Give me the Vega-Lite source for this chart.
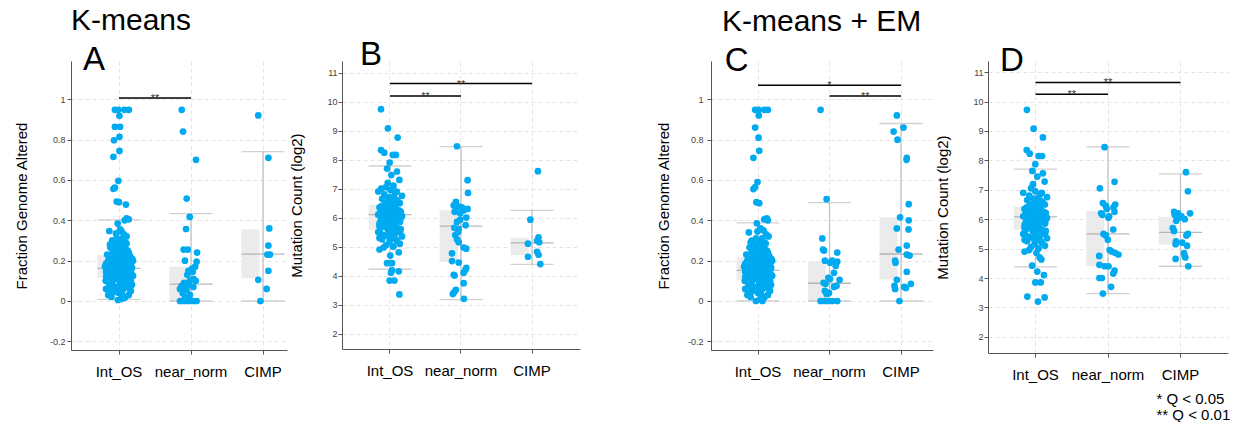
{
"$schema": "https://vega.github.io/schema/vega-lite/v6.json",
"padding": {"left": 14, "top": 6, "right": 0, "bottom": 0},
"background": "white",
"bounds": "flush",
"spacing": 55,
"config": {
  "font": "Liberation Sans",
  "view": {"stroke": null},
  "title": {"font": "Liberation Sans", "fontWeight": "normal", "color": "black", "subtitleFont": "Liberation Sans", "subtitleColor": "black"},
  "axis": {"labelFont": "Liberation Sans", "titleFont": "Liberation Sans", "titleFontWeight": "normal", "domainColor": "#555555", "tickColor": "#555555", "gridColor": "#e4e4e4", "gridDash": [4, 3]}
},
"datasets": {
"box": [
{"p":"A","g":"Int_OS","q1":0.116,"med":0.162,"q3":0.228,"lo":0.008,"hi":0.402},
{"p":"A","g":"near_norm","q1":0.0,"med":0.084,"q3":0.17,"lo":0.0,"hi":0.433},
{"p":"A","g":"CIMP","q1":0.113,"med":0.232,"q3":0.356,"lo":0.0,"hi":0.741},
{"p":"B","g":"Int_OS","q1":5.57,"med":6.10,"q3":6.44,"lo":4.22,"hi":7.78},
{"p":"B","g":"near_norm","q1":4.47,"med":5.71,"q3":6.25,"lo":3.17,"hi":8.45},
{"p":"B","g":"CIMP","q1":4.71,"med":5.13,"q3":5.31,"lo":4.39,"hi":6.25},
{"p":"C","g":"Int_OS","q1":0.104,"med":0.152,"q3":0.218,"lo":0.0,"hi":0.387},
{"p":"C","g":"near_norm","q1":0.0,"med":0.088,"q3":0.195,"lo":0.0,"hi":0.488},
{"p":"C","g":"CIMP","q1":0.106,"med":0.233,"q3":0.415,"lo":0.0,"hi":0.88},
{"p":"D","g":"Int_OS","q1":5.64,"med":6.08,"q3":6.43,"lo":4.38,"hi":7.70},
{"p":"D","g":"near_norm","q1":4.41,"med":5.50,"q3":6.28,"lo":3.47,"hi":8.46},
{"p":"D","g":"CIMP","q1":5.14,"med":5.55,"q3":6.08,"lo":4.40,"hi":7.54}
],
"sig": [
{"p":"A","a":"Int_OS","b":"near_norm","m":"Int_OS","y":1.006,"t":"**","s":"short"},
{"p":"B","a":"Int_OS","b":"near_norm","m":"Int_OS","y":10.19,"t":"**","s":"short"},
{"p":"B","a":"Int_OS","b":"CIMP","m":"near_norm","y":10.62,"t":"**","s":"long"},
{"p":"C","a":"Int_OS","b":"CIMP","m":"near_norm","y":1.07,"t":"*","s":"long"},
{"p":"C","a":"near_norm","b":"CIMP","m":"near_norm","y":1.016,"t":"**","s":"short"},
{"p":"D","a":"Int_OS","b":"near_norm","m":"Int_OS","y":10.25,"t":"**","s":"short"},
{"p":"D","a":"Int_OS","b":"CIMP","m":"near_norm","y":10.65,"t":"**","s":"long"}
],
"pts": [
{"p":"A","g":"Int_OS","v":0.948,"j":-0.19},{"p":"A","g":"Int_OS","v":0.948,"j":-0.03},{"p":"A","g":"Int_OS","v":0.948,"j":0.25},{"p":"A","g":"Int_OS","v":0.948,"j":0.46},
{"p":"A","g":"Int_OS","v":0.918,"j":0.02},{"p":"A","g":"Int_OS","v":0.864,"j":-0.19},{"p":"A","g":"Int_OS","v":0.864,"j":0.05},{"p":"A","g":"Int_OS","v":0.814,"j":0.02},
{"p":"A","g":"Int_OS","v":0.797,"j":-0.23},{"p":"A","g":"Int_OS","v":0.744,"j":0.02},{"p":"A","g":"Int_OS","v":0.715,"j":-0.26},{"p":"A","g":"Int_OS","v":0.596,"j":-0.03},
{"p":"A","g":"Int_OS","v":0.562,"j":-0.19},{"p":"A","g":"Int_OS","v":0.556,"j":-0.26},{"p":"A","g":"Int_OS","v":0.493,"j":-0.11},{"p":"A","g":"Int_OS","v":0.49,"j":0.0},
{"p":"A","g":"Int_OS","v":0.478,"j":0.32},{"p":"A","g":"Int_OS","v":0.41,"j":0.35},{"p":"A","g":"Int_OS","v":0.405,"j":0.45},{"p":"A","g":"Int_OS","v":0.4,"j":0.26},
{"p":"A","g":"Int_OS","v":0.384,"j":-0.06},{"p":"A","g":"Int_OS","v":0.347,"j":-0.45},{"p":"A","g":"Int_OS","v":0.355,"j":0.05},{"p":"A","g":"Int_OS","v":0.345,"j":0.12},
{"p":"A","g":"Int_OS","v":0.33,"j":0.23},{"p":"A","g":"Int_OS","v":0.32,"j":0.35},{"p":"A","g":"Int_OS","v":0.31,"j":0.17},{"p":"A","g":"Int_OS","v":0.335,"j":-0.14},
{"p":"A","g":"Int_OS","v":0.3,"j":-0.32},{"p":"A","g":"Int_OS","v":0.28,"j":-0.42},
{"p":"A","g":"Int_OS","v":0.005,"j":-0.05},{"p":"A","g":"Int_OS","v":0.01,"j":0.1},{"p":"A","g":"Int_OS","v":0.02,"j":-0.35},{"p":"A","g":"Int_OS","v":0.02,"j":0.3},
{"p":"A","g":"Int_OS","v":0.03,"j":-0.5},{"p":"A","g":"Int_OS","v":0.03,"j":0.45},{"p":"A","g":"Int_OS","v":0.04,"j":0.0},{"p":"A","g":"Int_OS","v":0.05,"j":-0.25},
{"p":"A","g":"Int_OS","v":0.05,"j":0.55},{"p":"A","g":"Int_OS","v":0.06,"j":-0.6},{"p":"A","g":"Int_OS","v":0.06,"j":0.2},{"p":"A","g":"Int_OS","v":0.07,"j":-0.1},
{"p":"A","g":"Int_OS","v":0.07,"j":0.4},{"p":"A","g":"Int_OS","v":0.08,"j":-0.45},{"p":"A","g":"Int_OS","v":0.08,"j":0.6},{"p":"A","g":"Int_OS","v":0.09,"j":0.05},
{"p":"A","g":"Int_OS","v":0.09,"j":-0.3},{"p":"A","g":"Int_OS","v":0.1,"j":0.35},{"p":"A","g":"Int_OS","v":0.1,"j":-0.62},{"p":"A","g":"Int_OS","v":0.1,"j":0.15},
{"p":"A","g":"Int_OS","v":0.11,"j":-0.15},{"p":"A","g":"Int_OS","v":0.11,"j":0.5},{"p":"A","g":"Int_OS","v":0.115,"j":-0.4},{"p":"A","g":"Int_OS","v":0.12,"j":0.25},
{"p":"A","g":"Int_OS","v":0.12,"j":-0.05},{"p":"A","g":"Int_OS","v":0.125,"j":0.65},{"p":"A","g":"Int_OS","v":0.13,"j":-0.55},{"p":"A","g":"Int_OS","v":0.13,"j":0.1},
{"p":"A","g":"Int_OS","v":0.135,"j":0.4},{"p":"A","g":"Int_OS","v":0.14,"j":-0.25},{"p":"A","g":"Int_OS","v":0.14,"j":0.2},{"p":"A","g":"Int_OS","v":0.145,"j":-0.6},
{"p":"A","g":"Int_OS","v":0.15,"j":0.55},{"p":"A","g":"Int_OS","v":0.15,"j":0.0},{"p":"A","g":"Int_OS","v":0.155,"j":-0.35},{"p":"A","g":"Int_OS","v":0.16,"j":0.3},
{"p":"A","g":"Int_OS","v":0.16,"j":-0.15},{"p":"A","g":"Int_OS","v":0.165,"j":0.6},{"p":"A","g":"Int_OS","v":0.17,"j":-0.5},{"p":"A","g":"Int_OS","v":0.17,"j":0.1},
{"p":"A","g":"Int_OS","v":0.175,"j":0.45},{"p":"A","g":"Int_OS","v":0.18,"j":-0.2},{"p":"A","g":"Int_OS","v":0.18,"j":0.25},{"p":"A","g":"Int_OS","v":0.185,"j":-0.6},
{"p":"A","g":"Int_OS","v":0.19,"j":0.05},{"p":"A","g":"Int_OS","v":0.19,"j":0.5},{"p":"A","g":"Int_OS","v":0.195,"j":-0.35},{"p":"A","g":"Int_OS","v":0.2,"j":0.2},
{"p":"A","g":"Int_OS","v":0.2,"j":-0.1},{"p":"A","g":"Int_OS","v":0.21,"j":0.6},{"p":"A","g":"Int_OS","v":0.21,"j":-0.45},{"p":"A","g":"Int_OS","v":0.215,"j":0.35},
{"p":"A","g":"Int_OS","v":0.22,"j":-0.2},{"p":"A","g":"Int_OS","v":0.22,"j":0.0},{"p":"A","g":"Int_OS","v":0.225,"j":0.5},{"p":"A","g":"Int_OS","v":0.23,"j":-0.55},
{"p":"A","g":"Int_OS","v":0.235,"j":0.15},{"p":"A","g":"Int_OS","v":0.24,"j":-0.3},{"p":"A","g":"Int_OS","v":0.24,"j":0.45},{"p":"A","g":"Int_OS","v":0.25,"j":0.05},
{"p":"A","g":"Int_OS","v":0.25,"j":-0.1},{"p":"A","g":"Int_OS","v":0.26,"j":0.3},{"p":"A","g":"Int_OS","v":0.265,"j":-0.4},{"p":"A","g":"Int_OS","v":0.27,"j":0.2},
{"p":"A","g":"Int_OS","v":0.28,"j":-0.15},{"p":"A","g":"Int_OS","v":0.285,"j":0.35},{"p":"A","g":"Int_OS","v":0.29,"j":0.1},{"p":"A","g":"Int_OS","v":0.3,"j":-0.3},
{"p":"A","g":"Int_OS","v":0.23,"j":0.3},{"p":"A","g":"Int_OS","v":0.13,"j":0.6},{"p":"A","g":"Int_OS","v":0.09,"j":0.45},{"p":"A","g":"Int_OS","v":0.06,"j":-0.2},
{"p":"A","g":"Int_OS","v":0.17,"j":-0.65},{"p":"A","g":"Int_OS","v":0.12,"j":0.45},{"p":"A","g":"Int_OS","v":0.2,"j":0.65},{"p":"A","g":"Int_OS","v":0.015,"j":0.25},
{"p":"A","g":"Int_OS","v":0.045,"j":-0.15},
{"p":"A","g":"Int_OS","v":0.105,"j":0.05},{"p":"A","g":"Int_OS","v":0.115,"j":0.3},{"p":"A","g":"Int_OS","v":0.125,"j":-0.3},{"p":"A","g":"Int_OS","v":0.135,"j":-0.1},
{"p":"A","g":"Int_OS","v":0.145,"j":0.35},{"p":"A","g":"Int_OS","v":0.155,"j":0.15},{"p":"A","g":"Int_OS","v":0.165,"j":-0.25},{"p":"A","g":"Int_OS","v":0.175,"j":0.0},
{"p":"A","g":"Int_OS","v":0.185,"j":0.3},{"p":"A","g":"Int_OS","v":0.195,"j":0.1},{"p":"A","g":"Int_OS","v":0.205,"j":-0.3},{"p":"A","g":"Int_OS","v":0.215,"j":-0.05},
{"p":"A","g":"Int_OS","v":0.225,"j":0.25},{"p":"A","g":"Int_OS","v":0.14,"j":0.5},{"p":"A","g":"Int_OS","v":0.16,"j":-0.45},{"p":"A","g":"Int_OS","v":0.18,"j":0.55},
{"p":"A","g":"Int_OS","v":0.2,"j":-0.5},{"p":"A","g":"Int_OS","v":0.12,"j":-0.6},{"p":"A","g":"Int_OS","v":0.1,"j":0.55},{"p":"A","g":"Int_OS","v":0.08,"j":0.15},
{"p":"A","g":"Int_OS","v":0.07,"j":-0.35},{"p":"A","g":"Int_OS","v":0.06,"j":0.5},{"p":"A","g":"Int_OS","v":0.05,"j":0.1},{"p":"A","g":"Int_OS","v":0.04,"j":-0.4},
{"p":"A","g":"Int_OS","v":0.03,"j":0.15},{"p":"A","g":"Int_OS","v":0.11,"j":0.2},{"p":"A","g":"Int_OS","v":0.13,"j":-0.4},{"p":"A","g":"Int_OS","v":0.15,"j":-0.2},
{"p":"A","g":"Int_OS","v":0.17,"j":0.35},{"p":"A","g":"Int_OS","v":0.19,"j":-0.1},{"p":"A","g":"Int_OS","v":0.21,"j":0.15},{"p":"A","g":"Int_OS","v":0.23,"j":0.0},
{"p":"A","g":"Int_OS","v":0.25,"j":0.4},{"p":"A","g":"Int_OS","v":0.27,"j":-0.25},{"p":"A","g":"Int_OS","v":0.29,"j":0.3},{"p":"A","g":"Int_OS","v":0.31,"j":-0.1},
{"p":"A","g":"Int_OS","v":0.26,"j":0.0},{"p":"A","g":"Int_OS","v":0.24,"j":0.2},{"p":"A","g":"Int_OS","v":0.155,"j":0.45},{"p":"A","g":"Int_OS","v":0.145,"j":0.05},
{"p":"A","g":"near_norm","v":0.948,"j":-0.43},{"p":"A","g":"near_norm","v":0.84,"j":-0.37},{"p":"A","g":"near_norm","v":0.7,"j":0.23},{"p":"A","g":"near_norm","v":0.508,"j":-0.2},
{"p":"A","g":"near_norm","v":0.417,"j":-0.06},{"p":"A","g":"near_norm","v":0.357,"j":-0.23},{"p":"A","g":"near_norm","v":0.255,"j":-0.34},{"p":"A","g":"near_norm","v":0.255,"j":-0.15},
{"p":"A","g":"near_norm","v":0.24,"j":0.28},{"p":"A","g":"near_norm","v":0.2,"j":-0.28},{"p":"A","g":"near_norm","v":0.195,"j":0.26},{"p":"A","g":"near_norm","v":0.17,"j":0.19},
{"p":"A","g":"near_norm","v":0.16,"j":0.05},{"p":"A","g":"near_norm","v":0.15,"j":-0.12},{"p":"A","g":"near_norm","v":0.145,"j":0.08},{"p":"A","g":"near_norm","v":0.13,"j":-0.17},
{"p":"A","g":"near_norm","v":0.11,"j":0.11},{"p":"A","g":"near_norm","v":0.1,"j":-0.05},{"p":"A","g":"near_norm","v":0.1,"j":0.22},{"p":"A","g":"near_norm","v":0.09,"j":-0.32},
{"p":"A","g":"near_norm","v":0.08,"j":-0.12},{"p":"A","g":"near_norm","v":0.075,"j":-0.43},{"p":"A","g":"near_norm","v":0.07,"j":0.11},{"p":"A","g":"near_norm","v":0.065,"j":-0.25},
{"p":"A","g":"near_norm","v":0.06,"j":-0.51},{"p":"A","g":"near_norm","v":0.055,"j":-0.2},{"p":"A","g":"near_norm","v":0.04,"j":-0.39},{"p":"A","g":"near_norm","v":0.03,"j":-0.05},
{"p":"A","g":"near_norm","v":0.02,"j":-0.28},{"p":"A","g":"near_norm","v":0.0,"j":-0.51},{"p":"A","g":"near_norm","v":0.0,"j":-0.35},{"p":"A","g":"near_norm","v":0.0,"j":-0.2},
{"p":"A","g":"near_norm","v":0.0,"j":-0.05},{"p":"A","g":"near_norm","v":0.0,"j":0.11},{"p":"A","g":"near_norm","v":0.0,"j":0.26},
{"p":"A","g":"CIMP","v":0.92,"j":-0.22},{"p":"A","g":"CIMP","v":0.71,"j":0.25},{"p":"A","g":"CIMP","v":0.36,"j":0.29},{"p":"A","g":"CIMP","v":0.275,"j":0.25},
{"p":"A","g":"CIMP","v":0.23,"j":0.2},{"p":"A","g":"CIMP","v":0.23,"j":0.32},{"p":"A","g":"CIMP","v":0.15,"j":0.25},{"p":"A","g":"CIMP","v":0.105,"j":-0.22},
{"p":"A","g":"CIMP","v":0.06,"j":0.17},{"p":"A","g":"CIMP","v":0.0,"j":-0.12},

{"p":"C","g":"Int_OS","v":0.948,"j":-0.14},{"p":"C","g":"Int_OS","v":0.948,"j":0.02},{"p":"C","g":"Int_OS","v":0.948,"j":0.28},{"p":"C","g":"Int_OS","v":0.948,"j":0.45},
{"p":"C","g":"Int_OS","v":0.92,"j":0.03},{"p":"C","g":"Int_OS","v":0.86,"j":-0.14},{"p":"C","g":"Int_OS","v":0.81,"j":0.02},{"p":"C","g":"Int_OS","v":0.745,"j":0.05},
{"p":"C","g":"Int_OS","v":0.71,"j":-0.22},{"p":"C","g":"Int_OS","v":0.59,"j":-0.03},{"p":"C","g":"Int_OS","v":0.565,"j":-0.14},{"p":"C","g":"Int_OS","v":0.555,"j":-0.22},
{"p":"C","g":"Int_OS","v":0.49,"j":-0.08},{"p":"C","g":"Int_OS","v":0.485,"j":0.05},{"p":"C","g":"Int_OS","v":0.41,"j":0.4},{"p":"C","g":"Int_OS","v":0.405,"j":0.28},
{"p":"C","g":"Int_OS","v":0.4,"j":0.45},{"p":"C","g":"Int_OS","v":0.385,"j":-0.06},{"p":"C","g":"Int_OS","v":0.34,"j":-0.43},{"p":"C","g":"Int_OS","v":0.29,"j":-0.35},
{"p":"C","g":"Int_OS","v":0.36,"j":0.11},{"p":"C","g":"Int_OS","v":0.35,"j":0.25},{"p":"C","g":"Int_OS","v":0.33,"j":0.37},{"p":"C","g":"Int_OS","v":0.32,"j":0.48},
{"p":"C","g":"Int_OS","v":0.345,"j":-0.03},{"p":"C","g":"Int_OS","v":0.31,"j":0.19},
{"p":"C","g":"Int_OS","v":0.0,"j":-0.1},{"p":"C","g":"Int_OS","v":0.0,"j":0.2},{"p":"C","g":"Int_OS","v":0.01,"j":0.1},{"p":"C","g":"Int_OS","v":0.02,"j":-0.35},{"p":"C","g":"Int_OS","v":0.02,"j":0.3},
{"p":"C","g":"Int_OS","v":0.03,"j":-0.5},{"p":"C","g":"Int_OS","v":0.03,"j":0.45},{"p":"C","g":"Int_OS","v":0.04,"j":0.0},{"p":"C","g":"Int_OS","v":0.05,"j":-0.25},
{"p":"C","g":"Int_OS","v":0.05,"j":0.55},{"p":"C","g":"Int_OS","v":0.06,"j":-0.6},{"p":"C","g":"Int_OS","v":0.06,"j":0.2},{"p":"C","g":"Int_OS","v":0.07,"j":-0.1},
{"p":"C","g":"Int_OS","v":0.07,"j":0.4},{"p":"C","g":"Int_OS","v":0.08,"j":-0.45},{"p":"C","g":"Int_OS","v":0.08,"j":0.6},{"p":"C","g":"Int_OS","v":0.09,"j":0.05},
{"p":"C","g":"Int_OS","v":0.09,"j":-0.3},{"p":"C","g":"Int_OS","v":0.1,"j":0.35},{"p":"C","g":"Int_OS","v":0.1,"j":-0.62},{"p":"C","g":"Int_OS","v":0.1,"j":0.15},
{"p":"C","g":"Int_OS","v":0.11,"j":-0.15},{"p":"C","g":"Int_OS","v":0.11,"j":0.5},{"p":"C","g":"Int_OS","v":0.115,"j":-0.4},{"p":"C","g":"Int_OS","v":0.12,"j":0.25},
{"p":"C","g":"Int_OS","v":0.12,"j":-0.05},{"p":"C","g":"Int_OS","v":0.125,"j":0.65},{"p":"C","g":"Int_OS","v":0.13,"j":-0.55},{"p":"C","g":"Int_OS","v":0.13,"j":0.1},
{"p":"C","g":"Int_OS","v":0.135,"j":0.4},{"p":"C","g":"Int_OS","v":0.14,"j":-0.25},{"p":"C","g":"Int_OS","v":0.14,"j":0.2},{"p":"C","g":"Int_OS","v":0.145,"j":-0.6},
{"p":"C","g":"Int_OS","v":0.15,"j":0.55},{"p":"C","g":"Int_OS","v":0.15,"j":0.0},{"p":"C","g":"Int_OS","v":0.155,"j":-0.35},{"p":"C","g":"Int_OS","v":0.16,"j":0.3},
{"p":"C","g":"Int_OS","v":0.16,"j":-0.15},{"p":"C","g":"Int_OS","v":0.165,"j":0.6},{"p":"C","g":"Int_OS","v":0.17,"j":-0.5},{"p":"C","g":"Int_OS","v":0.17,"j":0.1},
{"p":"C","g":"Int_OS","v":0.175,"j":0.45},{"p":"C","g":"Int_OS","v":0.18,"j":-0.2},{"p":"C","g":"Int_OS","v":0.18,"j":0.25},{"p":"C","g":"Int_OS","v":0.185,"j":-0.6},
{"p":"C","g":"Int_OS","v":0.19,"j":0.05},{"p":"C","g":"Int_OS","v":0.19,"j":0.5},{"p":"C","g":"Int_OS","v":0.195,"j":-0.35},{"p":"C","g":"Int_OS","v":0.2,"j":0.2},
{"p":"C","g":"Int_OS","v":0.2,"j":-0.1},{"p":"C","g":"Int_OS","v":0.21,"j":0.6},{"p":"C","g":"Int_OS","v":0.21,"j":-0.45},{"p":"C","g":"Int_OS","v":0.215,"j":0.35},
{"p":"C","g":"Int_OS","v":0.22,"j":-0.2},{"p":"C","g":"Int_OS","v":0.22,"j":0.0},{"p":"C","g":"Int_OS","v":0.225,"j":0.5},{"p":"C","g":"Int_OS","v":0.23,"j":-0.55},
{"p":"C","g":"Int_OS","v":0.235,"j":0.15},{"p":"C","g":"Int_OS","v":0.24,"j":-0.3},{"p":"C","g":"Int_OS","v":0.24,"j":0.45},{"p":"C","g":"Int_OS","v":0.25,"j":0.05},
{"p":"C","g":"Int_OS","v":0.25,"j":-0.1},{"p":"C","g":"Int_OS","v":0.26,"j":0.3},{"p":"C","g":"Int_OS","v":0.265,"j":-0.4},{"p":"C","g":"Int_OS","v":0.27,"j":0.2},
{"p":"C","g":"Int_OS","v":0.28,"j":-0.15},{"p":"C","g":"Int_OS","v":0.285,"j":0.35},{"p":"C","g":"Int_OS","v":0.29,"j":0.1},{"p":"C","g":"Int_OS","v":0.3,"j":-0.3},
{"p":"C","g":"Int_OS","v":0.23,"j":0.3},{"p":"C","g":"Int_OS","v":0.13,"j":0.6},{"p":"C","g":"Int_OS","v":0.09,"j":0.45},{"p":"C","g":"Int_OS","v":0.06,"j":-0.2},
{"p":"C","g":"Int_OS","v":0.17,"j":-0.65},{"p":"C","g":"Int_OS","v":0.12,"j":0.45},{"p":"C","g":"Int_OS","v":0.2,"j":0.65},{"p":"C","g":"Int_OS","v":0.015,"j":0.25},
{"p":"C","g":"Int_OS","v":0.105,"j":0.05},{"p":"C","g":"Int_OS","v":0.115,"j":0.3},{"p":"C","g":"Int_OS","v":0.125,"j":-0.3},{"p":"C","g":"Int_OS","v":0.135,"j":-0.1},
{"p":"C","g":"Int_OS","v":0.145,"j":0.35},{"p":"C","g":"Int_OS","v":0.155,"j":0.15},{"p":"C","g":"Int_OS","v":0.165,"j":-0.25},{"p":"C","g":"Int_OS","v":0.175,"j":0.0},
{"p":"C","g":"Int_OS","v":0.185,"j":0.3},{"p":"C","g":"Int_OS","v":0.195,"j":0.1},{"p":"C","g":"Int_OS","v":0.205,"j":-0.3},{"p":"C","g":"Int_OS","v":0.215,"j":-0.05},
{"p":"C","g":"Int_OS","v":0.225,"j":0.25},{"p":"C","g":"Int_OS","v":0.14,"j":0.5},{"p":"C","g":"Int_OS","v":0.16,"j":-0.45},{"p":"C","g":"Int_OS","v":0.18,"j":0.55},
{"p":"C","g":"Int_OS","v":0.2,"j":-0.5},{"p":"C","g":"Int_OS","v":0.12,"j":-0.6},{"p":"C","g":"Int_OS","v":0.1,"j":0.55},{"p":"C","g":"Int_OS","v":0.08,"j":0.15},
{"p":"C","g":"Int_OS","v":0.07,"j":-0.35},{"p":"C","g":"Int_OS","v":0.06,"j":0.5},{"p":"C","g":"Int_OS","v":0.05,"j":0.1},{"p":"C","g":"Int_OS","v":0.04,"j":-0.4},
{"p":"C","g":"Int_OS","v":0.03,"j":0.15},{"p":"C","g":"Int_OS","v":0.11,"j":0.2},{"p":"C","g":"Int_OS","v":0.13,"j":-0.4},{"p":"C","g":"Int_OS","v":0.15,"j":-0.2},
{"p":"C","g":"Int_OS","v":0.17,"j":0.35},{"p":"C","g":"Int_OS","v":0.19,"j":-0.1},{"p":"C","g":"Int_OS","v":0.21,"j":0.15},{"p":"C","g":"Int_OS","v":0.23,"j":0.0},
{"p":"C","g":"Int_OS","v":0.25,"j":0.4},{"p":"C","g":"Int_OS","v":0.27,"j":-0.25},{"p":"C","g":"Int_OS","v":0.29,"j":0.3},{"p":"C","g":"Int_OS","v":0.31,"j":-0.1},
{"p":"C","g":"Int_OS","v":0.26,"j":0.0},{"p":"C","g":"Int_OS","v":0.24,"j":0.2},{"p":"C","g":"Int_OS","v":0.155,"j":0.45},{"p":"C","g":"Int_OS","v":0.145,"j":0.05},
{"p":"C","g":"near_norm","v":0.948,"j":-0.42},{"p":"C","g":"near_norm","v":0.505,"j":-0.14},{"p":"C","g":"near_norm","v":0.31,"j":-0.34},{"p":"C","g":"near_norm","v":0.255,"j":-0.31},
{"p":"C","g":"near_norm","v":0.25,"j":-0.26},{"p":"C","g":"near_norm","v":0.24,"j":0.35},{"p":"C","g":"near_norm","v":0.2,"j":-0.22},{"p":"C","g":"near_norm","v":0.2,"j":0.12},
{"p":"C","g":"near_norm","v":0.19,"j":0.02},{"p":"C","g":"near_norm","v":0.195,"j":0.35},{"p":"C","g":"near_norm","v":0.175,"j":0.28},{"p":"C","g":"near_norm","v":0.14,"j":0.2},
{"p":"C","g":"near_norm","v":0.115,"j":-0.06},{"p":"C","g":"near_norm","v":0.11,"j":0.02},{"p":"C","g":"near_norm","v":0.105,"j":0.46},{"p":"C","g":"near_norm","v":0.09,"j":-0.28},
{"p":"C","g":"near_norm","v":0.085,"j":-0.19},{"p":"C","g":"near_norm","v":0.075,"j":0.32},{"p":"C","g":"near_norm","v":0.07,"j":0.2},{"p":"C","g":"near_norm","v":0.05,"j":-0.22},
{"p":"C","g":"near_norm","v":0.04,"j":-0.03},{"p":"C","g":"near_norm","v":0.035,"j":-0.14},{"p":"C","g":"near_norm","v":0.0,"j":-0.42},{"p":"C","g":"near_norm","v":0.0,"j":-0.22},
{"p":"C","g":"near_norm","v":0.0,"j":-0.06},{"p":"C","g":"near_norm","v":0.0,"j":0.12},{"p":"C","g":"near_norm","v":0.0,"j":0.35},
{"p":"C","g":"CIMP","v":0.92,"j":-0.2},{"p":"C","g":"CIMP","v":0.86,"j":0.11},{"p":"C","g":"CIMP","v":0.84,"j":-0.35},{"p":"C","g":"CIMP","v":0.8,"j":-0.17},
{"p":"C","g":"CIMP","v":0.71,"j":0.26},{"p":"C","g":"CIMP","v":0.7,"j":0.25},{"p":"C","g":"CIMP","v":0.48,"j":0.35},{"p":"C","g":"CIMP","v":0.415,"j":-0.05},
{"p":"C","g":"CIMP","v":0.4,"j":0.35},{"p":"C","g":"CIMP","v":0.36,"j":-0.2},{"p":"C","g":"CIMP","v":0.355,"j":0.34},{"p":"C","g":"CIMP","v":0.275,"j":0.26},
{"p":"C","g":"CIMP","v":0.255,"j":-0.12},{"p":"C","g":"CIMP","v":0.23,"j":0.26},{"p":"C","g":"CIMP","v":0.225,"j":0.39},{"p":"C","g":"CIMP","v":0.2,"j":-0.28},
{"p":"C","g":"CIMP","v":0.19,"j":-0.26},{"p":"C","g":"CIMP","v":0.145,"j":0.26},{"p":"C","g":"CIMP","v":0.105,"j":-0.2},{"p":"C","g":"CIMP","v":0.085,"j":0.45},
{"p":"C","g":"CIMP","v":0.075,"j":-0.31},{"p":"C","g":"CIMP","v":0.07,"j":0.14},{"p":"C","g":"CIMP","v":0.065,"j":0.22},{"p":"C","g":"CIMP","v":0.06,"j":-0.28},
{"p":"C","g":"CIMP","v":0.0,"j":-0.08},

{"p":"B","g":"Int_OS","v":9.74,"j":-0.43},{"p":"B","g":"Int_OS","v":9.08,"j":-0.11},{"p":"B","g":"Int_OS","v":8.76,"j":0.34},{"p":"B","g":"Int_OS","v":8.33,"j":-0.43},
{"p":"B","g":"Int_OS","v":8.24,"j":-0.28},{"p":"B","g":"Int_OS","v":8.16,"j":0.12},{"p":"B","g":"Int_OS","v":8.16,"j":0.26},{"p":"B","g":"Int_OS","v":7.9,"j":-0.03},
{"p":"B","g":"Int_OS","v":7.69,"j":-0.15},{"p":"B","g":"Int_OS","v":7.59,"j":0.31},{"p":"B","g":"Int_OS","v":7.47,"j":0.05},{"p":"B","g":"Int_OS","v":7.3,"j":0.42},
{"p":"B","g":"Int_OS","v":7.2,"j":-0.12},{"p":"B","g":"Int_OS","v":7.1,"j":0.15},{"p":"B","g":"Int_OS","v":7.0,"j":-0.42},{"p":"B","g":"Int_OS","v":4.97,"j":-0.31},
{"p":"B","g":"Int_OS","v":4.8,"j":0.39},{"p":"B","g":"Int_OS","v":4.69,"j":0.0},{"p":"B","g":"Int_OS","v":4.43,"j":-0.15},{"p":"B","g":"Int_OS","v":4.43,"j":0.08},
{"p":"B","g":"Int_OS","v":4.18,"j":0.08},{"p":"B","g":"Int_OS","v":4.15,"j":0.39},{"p":"B","g":"Int_OS","v":4.1,"j":0.03},{"p":"B","g":"Int_OS","v":3.83,"j":-0.03},
{"p":"B","g":"Int_OS","v":3.83,"j":0.19},{"p":"B","g":"Int_OS","v":3.35,"j":0.42},
{"p":"B","g":"Int_OS","v":4.9,"j":-0.5},{"p":"B","g":"Int_OS","v":5.0,"j":0.14},{"p":"B","g":"Int_OS","v":5.05,"j":-0.2},{"p":"B","g":"Int_OS","v":5.1,"j":0.44},
{"p":"B","g":"Int_OS","v":5.15,"j":-0.04},{"p":"B","g":"Int_OS","v":5.2,"j":0.3},{"p":"B","g":"Int_OS","v":5.25,"j":-0.38},{"p":"B","g":"Int_OS","v":5.3,"j":0.06},
{"p":"B","g":"Int_OS","v":5.35,"j":0.54},{"p":"B","g":"Int_OS","v":5.4,"j":-0.28},{"p":"B","g":"Int_OS","v":5.45,"j":0.22},{"p":"B","g":"Int_OS","v":5.5,"j":-0.56},
{"p":"B","g":"Int_OS","v":5.5,"j":0.0},{"p":"B","g":"Int_OS","v":5.55,"j":0.38},{"p":"B","g":"Int_OS","v":5.6,"j":-0.12},{"p":"B","g":"Int_OS","v":5.6,"j":0.48},
{"p":"B","g":"Int_OS","v":5.65,"j":-0.44},{"p":"B","g":"Int_OS","v":5.7,"j":0.18},{"p":"B","g":"Int_OS","v":5.7,"j":-0.24},{"p":"B","g":"Int_OS","v":5.75,"j":0.1},
{"p":"B","g":"Int_OS","v":5.8,"j":-0.5},{"p":"B","g":"Int_OS","v":5.8,"j":0.14},{"p":"B","g":"Int_OS","v":5.85,"j":-0.2},{"p":"B","g":"Int_OS","v":5.9,"j":0.44},
{"p":"B","g":"Int_OS","v":5.9,"j":-0.04},{"p":"B","g":"Int_OS","v":5.95,"j":0.3},{"p":"B","g":"Int_OS","v":6.0,"j":-0.38},{"p":"B","g":"Int_OS","v":6.0,"j":0.06},
{"p":"B","g":"Int_OS","v":6.05,"j":0.54},{"p":"B","g":"Int_OS","v":6.05,"j":-0.28},{"p":"B","g":"Int_OS","v":6.1,"j":0.22},{"p":"B","g":"Int_OS","v":6.1,"j":-0.56},
{"p":"B","g":"Int_OS","v":6.15,"j":0.0},{"p":"B","g":"Int_OS","v":6.15,"j":0.38},{"p":"B","g":"Int_OS","v":6.2,"j":-0.12},{"p":"B","g":"Int_OS","v":6.2,"j":0.48},
{"p":"B","g":"Int_OS","v":6.25,"j":-0.44},{"p":"B","g":"Int_OS","v":6.25,"j":0.18},{"p":"B","g":"Int_OS","v":6.3,"j":-0.24},{"p":"B","g":"Int_OS","v":6.3,"j":0.1},
{"p":"B","g":"Int_OS","v":6.35,"j":-0.5},{"p":"B","g":"Int_OS","v":6.4,"j":0.14},{"p":"B","g":"Int_OS","v":6.45,"j":-0.2},{"p":"B","g":"Int_OS","v":6.5,"j":0.44},
{"p":"B","g":"Int_OS","v":6.55,"j":-0.04},{"p":"B","g":"Int_OS","v":6.6,"j":0.3},{"p":"B","g":"Int_OS","v":6.65,"j":-0.38},{"p":"B","g":"Int_OS","v":6.7,"j":0.06},
{"p":"B","g":"Int_OS","v":6.75,"j":0.54},{"p":"B","g":"Int_OS","v":6.8,"j":-0.28},{"p":"B","g":"Int_OS","v":6.85,"j":0.22},{"p":"B","g":"Int_OS","v":6.9,"j":-0.56},
{"p":"B","g":"Int_OS","v":6.95,"j":0.0},{"p":"B","g":"Int_OS","v":6.0,"j":0.38},{"p":"B","g":"Int_OS","v":6.1,"j":-0.12},{"p":"B","g":"Int_OS","v":6.2,"j":0.48},
{"p":"B","g":"Int_OS","v":5.9,"j":-0.44},{"p":"B","g":"Int_OS","v":5.7,"j":0.18},{"p":"B","g":"Int_OS","v":6.4,"j":-0.24},{"p":"B","g":"Int_OS","v":6.6,"j":0.1},
{"p":"B","g":"Int_OS","v":5.3,"j":-0.5},{"p":"B","g":"Int_OS","v":5.0,"j":0.14},{"p":"B","g":"Int_OS","v":6.3,"j":-0.2},{"p":"B","g":"Int_OS","v":6.05,"j":0.44},
{"p":"B","g":"Int_OS","v":5.85,"j":-0.04},{"p":"B","g":"Int_OS","v":6.15,"j":0.3},{"p":"B","g":"Int_OS","v":5.95,"j":-0.38},{"p":"B","g":"Int_OS","v":6.35,"j":0.06},
{"p":"B","g":"Int_OS","v":5.25,"j":0.25},{"p":"B","g":"Int_OS","v":5.35,"j":-0.1},{"p":"B","g":"Int_OS","v":5.45,"j":-0.45},{"p":"B","g":"Int_OS","v":5.55,"j":0.05},
{"p":"B","g":"Int_OS","v":5.65,"j":0.3},{"p":"B","g":"Int_OS","v":5.75,"j":-0.3},{"p":"B","g":"Int_OS","v":5.85,"j":0.45},{"p":"B","g":"Int_OS","v":5.95,"j":0.1},
{"p":"B","g":"Int_OS","v":6.05,"j":-0.1},{"p":"B","g":"Int_OS","v":6.15,"j":-0.3},{"p":"B","g":"Int_OS","v":6.25,"j":0.4},{"p":"B","g":"Int_OS","v":6.35,"j":0.25},
{"p":"B","g":"Int_OS","v":6.45,"j":0.05},{"p":"B","g":"Int_OS","v":6.55,"j":0.35},{"p":"B","g":"Int_OS","v":6.65,"j":0.2},{"p":"B","g":"Int_OS","v":5.6,"j":0.2},
{"p":"B","g":"Int_OS","v":5.8,"j":-0.05},{"p":"B","g":"Int_OS","v":6.0,"j":0.5},{"p":"B","g":"Int_OS","v":6.2,"j":0.1},{"p":"B","g":"Int_OS","v":6.4,"j":-0.4},
{"p":"B","g":"Int_OS","v":5.5,"j":0.45},{"p":"B","g":"Int_OS","v":5.7,"j":-0.5},{"p":"B","g":"Int_OS","v":5.9,"j":0.2},{"p":"B","g":"Int_OS","v":6.1,"j":0.35},
{"p":"B","g":"Int_OS","v":6.3,"j":-0.45},{"p":"B","g":"Int_OS","v":6.5,"j":-0.25},{"p":"B","g":"Int_OS","v":6.7,"j":-0.1},{"p":"B","g":"Int_OS","v":5.4,"j":0.1},
{"p":"B","g":"Int_OS","v":6.9,"j":0.3},{"p":"B","g":"Int_OS","v":7.05,"j":-0.2},
{"p":"B","g":"near_norm","v":8.46,"j":-0.2},{"p":"B","g":"near_norm","v":7.29,"j":0.29},{"p":"B","g":"near_norm","v":6.85,"j":0.31},{"p":"B","g":"near_norm","v":6.54,"j":-0.25},
{"p":"B","g":"near_norm","v":6.42,"j":-0.35},{"p":"B","g":"near_norm","v":6.38,"j":-0.11},{"p":"B","g":"near_norm","v":6.35,"j":0.03},{"p":"B","g":"near_norm","v":6.3,"j":0.29},
{"p":"B","g":"near_norm","v":6.36,"j":-0.2},{"p":"B","g":"near_norm","v":6.25,"j":0.11},{"p":"B","g":"near_norm","v":6.2,"j":-0.31},{"p":"B","g":"near_norm","v":6.15,"j":-0.05},
{"p":"B","g":"near_norm","v":6.0,"j":0.23},{"p":"B","g":"near_norm","v":5.93,"j":-0.05},{"p":"B","g":"near_norm","v":5.85,"j":-0.2},{"p":"B","g":"near_norm","v":5.74,"j":0.2},
{"p":"B","g":"near_norm","v":5.65,"j":-0.32},{"p":"B","g":"near_norm","v":5.6,"j":-0.12},{"p":"B","g":"near_norm","v":5.5,"j":-0.15},{"p":"B","g":"near_norm","v":5.4,"j":-0.28},
{"p":"B","g":"near_norm","v":5.25,"j":-0.2},{"p":"B","g":"near_norm","v":5.15,"j":-0.12},{"p":"B","g":"near_norm","v":4.97,"j":0.11},{"p":"B","g":"near_norm","v":4.93,"j":0.23},
{"p":"B","g":"near_norm","v":4.77,"j":-0.43},{"p":"B","g":"near_norm","v":4.5,"j":-0.43},{"p":"B","g":"near_norm","v":4.45,"j":-0.12},{"p":"B","g":"near_norm","v":4.27,"j":0.23},
{"p":"B","g":"near_norm","v":4.2,"j":0.19},{"p":"B","g":"near_norm","v":4.1,"j":0.11},{"p":"B","g":"near_norm","v":4.03,"j":-0.35},{"p":"B","g":"near_norm","v":4.0,"j":-0.31},
{"p":"B","g":"near_norm","v":3.74,"j":0.11},{"p":"B","g":"near_norm","v":3.51,"j":-0.25},{"p":"B","g":"near_norm","v":3.45,"j":-0.31},{"p":"B","g":"near_norm","v":3.37,"j":-0.39},
{"p":"B","g":"near_norm","v":3.2,"j":0.12},
{"p":"B","g":"CIMP","v":7.6,"j":0.26},{"p":"B","g":"CIMP","v":5.93,"j":-0.09},{"p":"B","g":"CIMP","v":5.32,"j":0.29},{"p":"B","g":"CIMP","v":5.2,"j":0.22},
{"p":"B","g":"CIMP","v":5.15,"j":0.32},{"p":"B","g":"CIMP","v":5.1,"j":-0.2},{"p":"B","g":"CIMP","v":4.82,"j":0.22},{"p":"B","g":"CIMP","v":4.72,"j":0.29},
{"p":"B","g":"CIMP","v":4.65,"j":-0.2},{"p":"B","g":"CIMP","v":4.4,"j":0.37},

{"p":"D","g":"Int_OS","v":9.72,"j":-0.39},{"p":"D","g":"Int_OS","v":9.08,"j":-0.08},{"p":"D","g":"Int_OS","v":8.78,"j":0.35},{"p":"D","g":"Int_OS","v":8.35,"j":-0.4},
{"p":"D","g":"Int_OS","v":8.23,"j":-0.26},{"p":"D","g":"Int_OS","v":8.15,"j":0.15},{"p":"D","g":"Int_OS","v":8.15,"j":0.31},{"p":"D","g":"Int_OS","v":7.87,"j":0.0},
{"p":"D","g":"Int_OS","v":7.64,"j":-0.14},{"p":"D","g":"Int_OS","v":7.56,"j":0.35},{"p":"D","g":"Int_OS","v":7.45,"j":0.09},{"p":"D","g":"Int_OS","v":7.28,"j":0.43},
{"p":"D","g":"Int_OS","v":7.19,"j":-0.11},{"p":"D","g":"Int_OS","v":4.95,"j":-0.29},{"p":"D","g":"Int_OS","v":4.85,"j":0.05},{"p":"D","g":"Int_OS","v":4.7,"j":0.2},
{"p":"D","g":"Int_OS","v":4.63,"j":0.28},{"p":"D","g":"Int_OS","v":4.42,"j":-0.15},{"p":"D","g":"Int_OS","v":4.22,"j":0.09},{"p":"D","g":"Int_OS","v":4.1,"j":0.4},
{"p":"D","g":"Int_OS","v":3.85,"j":0.0},{"p":"D","g":"Int_OS","v":3.85,"j":0.25},{"p":"D","g":"Int_OS","v":3.37,"j":-0.37},{"p":"D","g":"Int_OS","v":3.34,"j":0.43},
{"p":"D","g":"Int_OS","v":3.2,"j":0.12},
{"p":"D","g":"Int_OS","v":4.9,"j":-0.5},{"p":"D","g":"Int_OS","v":5.0,"j":0.14},{"p":"D","g":"Int_OS","v":5.05,"j":-0.2},{"p":"D","g":"Int_OS","v":5.1,"j":0.44},
{"p":"D","g":"Int_OS","v":5.15,"j":-0.04},{"p":"D","g":"Int_OS","v":5.2,"j":0.3},{"p":"D","g":"Int_OS","v":5.25,"j":-0.38},{"p":"D","g":"Int_OS","v":5.3,"j":0.06},
{"p":"D","g":"Int_OS","v":5.35,"j":0.54},{"p":"D","g":"Int_OS","v":5.4,"j":-0.28},{"p":"D","g":"Int_OS","v":5.45,"j":0.22},{"p":"D","g":"Int_OS","v":5.5,"j":-0.56},
{"p":"D","g":"Int_OS","v":5.5,"j":0.0},{"p":"D","g":"Int_OS","v":5.55,"j":0.38},{"p":"D","g":"Int_OS","v":5.6,"j":-0.12},{"p":"D","g":"Int_OS","v":5.6,"j":0.48},
{"p":"D","g":"Int_OS","v":5.65,"j":-0.44},{"p":"D","g":"Int_OS","v":5.7,"j":0.18},{"p":"D","g":"Int_OS","v":5.7,"j":-0.24},{"p":"D","g":"Int_OS","v":5.75,"j":0.1},
{"p":"D","g":"Int_OS","v":5.8,"j":-0.5},{"p":"D","g":"Int_OS","v":5.8,"j":0.14},{"p":"D","g":"Int_OS","v":5.85,"j":-0.2},{"p":"D","g":"Int_OS","v":5.9,"j":0.44},
{"p":"D","g":"Int_OS","v":5.9,"j":-0.04},{"p":"D","g":"Int_OS","v":5.95,"j":0.3},{"p":"D","g":"Int_OS","v":6.0,"j":-0.38},{"p":"D","g":"Int_OS","v":6.0,"j":0.06},
{"p":"D","g":"Int_OS","v":6.05,"j":0.54},{"p":"D","g":"Int_OS","v":6.05,"j":-0.28},{"p":"D","g":"Int_OS","v":6.1,"j":0.22},{"p":"D","g":"Int_OS","v":6.1,"j":-0.56},
{"p":"D","g":"Int_OS","v":6.15,"j":0.0},{"p":"D","g":"Int_OS","v":6.15,"j":0.38},{"p":"D","g":"Int_OS","v":6.2,"j":-0.12},{"p":"D","g":"Int_OS","v":6.2,"j":0.48},
{"p":"D","g":"Int_OS","v":6.25,"j":-0.44},{"p":"D","g":"Int_OS","v":6.25,"j":0.18},{"p":"D","g":"Int_OS","v":6.3,"j":-0.24},{"p":"D","g":"Int_OS","v":6.3,"j":0.1},
{"p":"D","g":"Int_OS","v":6.35,"j":-0.5},{"p":"D","g":"Int_OS","v":6.4,"j":0.14},{"p":"D","g":"Int_OS","v":6.45,"j":-0.2},{"p":"D","g":"Int_OS","v":6.5,"j":0.44},
{"p":"D","g":"Int_OS","v":6.55,"j":-0.04},{"p":"D","g":"Int_OS","v":6.6,"j":0.3},{"p":"D","g":"Int_OS","v":6.65,"j":-0.38},{"p":"D","g":"Int_OS","v":6.7,"j":0.06},
{"p":"D","g":"Int_OS","v":6.75,"j":0.54},{"p":"D","g":"Int_OS","v":6.8,"j":-0.28},{"p":"D","g":"Int_OS","v":6.85,"j":0.22},{"p":"D","g":"Int_OS","v":6.9,"j":-0.56},
{"p":"D","g":"Int_OS","v":6.95,"j":0.0},{"p":"D","g":"Int_OS","v":6.0,"j":0.38},{"p":"D","g":"Int_OS","v":6.1,"j":-0.12},{"p":"D","g":"Int_OS","v":6.2,"j":0.48},
{"p":"D","g":"Int_OS","v":5.9,"j":-0.44},{"p":"D","g":"Int_OS","v":5.7,"j":0.18},{"p":"D","g":"Int_OS","v":6.4,"j":-0.24},{"p":"D","g":"Int_OS","v":6.6,"j":0.1},
{"p":"D","g":"Int_OS","v":5.3,"j":-0.5},{"p":"D","g":"Int_OS","v":5.0,"j":0.14},{"p":"D","g":"Int_OS","v":6.3,"j":-0.2},{"p":"D","g":"Int_OS","v":6.05,"j":0.44},
{"p":"D","g":"Int_OS","v":5.85,"j":-0.04},{"p":"D","g":"Int_OS","v":6.15,"j":0.3},{"p":"D","g":"Int_OS","v":5.95,"j":-0.38},{"p":"D","g":"Int_OS","v":6.35,"j":0.06},
{"p":"D","g":"Int_OS","v":5.25,"j":0.25},{"p":"D","g":"Int_OS","v":5.35,"j":-0.1},{"p":"D","g":"Int_OS","v":5.45,"j":-0.45},{"p":"D","g":"Int_OS","v":5.55,"j":0.05},
{"p":"D","g":"Int_OS","v":5.65,"j":0.3},{"p":"D","g":"Int_OS","v":5.75,"j":-0.3},{"p":"D","g":"Int_OS","v":5.85,"j":0.45},{"p":"D","g":"Int_OS","v":5.95,"j":0.1},
{"p":"D","g":"Int_OS","v":6.05,"j":-0.1},{"p":"D","g":"Int_OS","v":6.15,"j":-0.3},{"p":"D","g":"Int_OS","v":6.25,"j":0.4},{"p":"D","g":"Int_OS","v":6.35,"j":0.25},
{"p":"D","g":"Int_OS","v":6.45,"j":0.05},{"p":"D","g":"Int_OS","v":6.55,"j":0.35},{"p":"D","g":"Int_OS","v":6.65,"j":0.2},{"p":"D","g":"Int_OS","v":5.6,"j":0.2},
{"p":"D","g":"Int_OS","v":5.8,"j":-0.05},{"p":"D","g":"Int_OS","v":6.0,"j":0.5},{"p":"D","g":"Int_OS","v":6.2,"j":0.1},{"p":"D","g":"Int_OS","v":6.4,"j":-0.4},
{"p":"D","g":"Int_OS","v":5.5,"j":0.45},{"p":"D","g":"Int_OS","v":5.7,"j":-0.5},{"p":"D","g":"Int_OS","v":5.9,"j":0.2},{"p":"D","g":"Int_OS","v":6.1,"j":0.35},
{"p":"D","g":"Int_OS","v":6.3,"j":-0.45},{"p":"D","g":"Int_OS","v":6.5,"j":-0.25},{"p":"D","g":"Int_OS","v":6.7,"j":-0.1},{"p":"D","g":"Int_OS","v":5.4,"j":0.1},
{"p":"D","g":"Int_OS","v":6.9,"j":0.3},{"p":"D","g":"Int_OS","v":7.05,"j":-0.2},
{"p":"D","g":"near_norm","v":8.45,"j":-0.15},{"p":"D","g":"near_norm","v":7.27,"j":0.31},{"p":"D","g":"near_norm","v":7.05,"j":-0.37},{"p":"D","g":"near_norm","v":6.55,"j":-0.23},
{"p":"D","g":"near_norm","v":6.5,"j":0.34},{"p":"D","g":"near_norm","v":6.45,"j":-0.09},{"p":"D","g":"near_norm","v":6.4,"j":0.26},{"p":"D","g":"near_norm","v":6.35,"j":-0.05},
{"p":"D","g":"near_norm","v":6.25,"j":0.31},{"p":"D","g":"near_norm","v":6.2,"j":-0.31},{"p":"D","g":"near_norm","v":6.15,"j":-0.25},{"p":"D","g":"near_norm","v":6.1,"j":0.06},
{"p":"D","g":"near_norm","v":6.05,"j":0.03},{"p":"D","g":"near_norm","v":5.65,"j":0.25},{"p":"D","g":"near_norm","v":5.5,"j":-0.2},{"p":"D","g":"near_norm","v":5.45,"j":-0.09},
{"p":"D","g":"near_norm","v":5.3,"j":0.0},{"p":"D","g":"near_norm","v":4.95,"j":0.08},{"p":"D","g":"near_norm","v":4.9,"j":0.19},{"p":"D","g":"near_norm","v":4.85,"j":0.34},
{"p":"D","g":"near_norm","v":4.8,"j":0.49},{"p":"D","g":"near_norm","v":4.75,"j":-0.4},{"p":"D","g":"near_norm","v":4.45,"j":-0.39},{"p":"D","g":"near_norm","v":4.4,"j":-0.15},
{"p":"D","g":"near_norm","v":4.4,"j":0.03},{"p":"D","g":"near_norm","v":4.25,"j":0.31},{"p":"D","g":"near_norm","v":4.15,"j":0.25},{"p":"D","g":"near_norm","v":4.0,"j":-0.39},
{"p":"D","g":"near_norm","v":4.0,"j":-0.28},{"p":"D","g":"near_norm","v":3.7,"j":0.15},{"p":"D","g":"near_norm","v":3.47,"j":-0.23},
{"p":"D","g":"CIMP","v":7.6,"j":0.26},{"p":"D","g":"CIMP","v":6.95,"j":0.35},{"p":"D","g":"CIMP","v":6.25,"j":-0.29},{"p":"D","g":"CIMP","v":6.2,"j":0.45},
{"p":"D","g":"CIMP","v":6.2,"j":-0.11},{"p":"D","g":"CIMP","v":6.15,"j":-0.26},{"p":"D","g":"CIMP","v":6.1,"j":0.05},{"p":"D","g":"CIMP","v":6.05,"j":-0.08},
{"p":"D","g":"CIMP","v":6.0,"j":0.2},{"p":"D","g":"CIMP","v":5.95,"j":-0.19},{"p":"D","g":"CIMP","v":5.7,"j":-0.35},{"p":"D","g":"CIMP","v":5.6,"j":-0.29},
{"p":"D","g":"CIMP","v":5.5,"j":0.35},{"p":"D","g":"CIMP","v":5.45,"j":0.28},{"p":"D","g":"CIMP","v":5.25,"j":-0.2},{"p":"D","g":"CIMP","v":5.2,"j":0.09},
{"p":"D","g":"CIMP","v":5.15,"j":-0.22},{"p":"D","g":"CIMP","v":5.1,"j":0.31},{"p":"D","g":"CIMP","v":4.85,"j":0.17},{"p":"D","g":"CIMP","v":4.75,"j":0.2},
{"p":"D","g":"CIMP","v":4.7,"j":0.23},{"p":"D","g":"CIMP","v":4.65,"j":-0.22},{"p":"D","g":"CIMP","v":4.4,"j":0.37}
]
},
"hconcat": [
 {
  "width": 216, "height": 289,
  "title": {"text": "K-means", "subtitle": "\u200b\u00a0\u200aA", "fontSize": 30, "subtitleFontSize": 33, "subtitlePadding": 8, "anchor": "start", "frame": "group", "dx": 0, "offset": -16},
  "layer": [
   {"data": {"name": "box"}, "transform": [{"filter": "datum.p == 'A'"}], "mark": {"type": "rule", "color": "#c2c2c2", "strokeWidth": 1.3},
    "encoding": {"x": {"field": "g", "type": "nominal", "bandPosition": 0.5, "scale": {"domain": ["Int_OS","near_norm","CIMP"], "paddingInner": 0.4, "paddingOuter": 0.2, "align": 0.917}},
     "y": {"field": "lo", "type": "quantitative", "scale": {"domain": [-0.243, 1.19], "nice": false, "zero": false}}, "y2": {"field": "hi"}}},
   {"data": {"name": "box"}, "transform": [{"filter": "datum.p == 'A'"}], "mark": {"type": "rect", "color": "#ebebeb"},
    "encoding": {"x": {"field": "g", "type": "nominal", "scale": {"domain": ["Int_OS","near_norm","CIMP"], "paddingInner": 0.4, "paddingOuter": 0.2, "align": 0.917}},
     "y": {"field": "q1", "type": "quantitative", "scale": {"domain": [-0.243, 1.19], "nice": false, "zero": false}}, "y2": {"field": "q3"}}},
   {"data": {"name": "box"}, "transform": [{"filter": "datum.p == 'A'"}, {"fold": ["lo", "hi", "med"], "as": ["k", "w"]}], "mark": {"type": "tick", "thickness": 1.3, "size": 43},
    "encoding": {"x": {"field": "g", "type": "nominal", "scale": {"domain": ["Int_OS","near_norm","CIMP"], "paddingInner": 0.4, "paddingOuter": 0.2, "align": 0.917}},
     "y": {"field": "w", "type": "quantitative", "scale": {"domain": [-0.243, 1.19], "nice": false, "zero": false}},
     "color": {"field": "k", "type": "nominal", "scale": {"domain": ["lo", "hi", "med"], "range": ["#bdbdbd", "#bdbdbd", "#9e9e9e"]}, "legend": null}}},
   {"data": {"name": "pts"}, "transform": [{"filter": "datum.p == 'A'"}], "mark": {"type": "circle", "size": 45, "color": "#00aaf0", "opacity": 1},
    "encoding": {"x": {"field": "g", "type": "nominal", "scale": {"domain": ["Int_OS","near_norm","CIMP"], "paddingInner": 0.4, "paddingOuter": 0.2, "align": 0.917},
       "axis": {"title": null, "labelAngle": 0, "labelAlign": "center", "labelBaseline": "top", "labelOverlap": false, "labelFontSize": 15, "labelColor": "black", "labelPadding": 10, "tickSize": 4, "grid": true, "bandPosition": 0.5}},
     "xOffset": {"field": "j", "type": "quantitative", "scale": {"domain": [-1, 1]}},
     "y": {"field": "v", "type": "quantitative", "scale": {"domain": [-0.243, 1.19], "nice": false, "zero": false},
       "axis": {"title": "Fraction Genome Altered", "titleFontSize": 15, "titleColor": "black", "titlePadding": 20, "values": [-0.2, 0, 0.2, 0.4, 0.6, 0.8, 1], "tickCount": 8, "format": "~g", "labelExpr": "replace(datum.label, '\u2212', '-')", "labelOverlap": false, "labelFontSize": 9, "labelColor": "#444444", "labelPadding": 2, "tickSize": 4, "grid": true}}}},
   {"data": {"name": "sig"}, "transform": [{"filter": "datum.p == 'A'"}], "mark": {"type": "rule", "color": "black", "strokeWidth": 1.5},
    "encoding": {"x": {"field": "a", "type": "nominal", "bandPosition": 0.5, "scale": {"domain": ["Int_OS","near_norm","CIMP"], "paddingInner": 0.4, "paddingOuter": 0.2, "align": 0.917}},
     "x2": {"field": "b", "bandPosition": 0.5},
     "y": {"field": "y", "type": "quantitative", "scale": {"domain": [-0.243, 1.19], "nice": false, "zero": false}}}},
   {"data": {"name": "sig"}, "transform": [{"filter": "datum.p == 'A'"}], "mark": {"type": "text", "fontSize": 11, "color": "#333333", "baseline": "alphabetic", "dy": 4},
    "encoding": {"x": {"field": "m", "type": "nominal", "bandPosition": 1.333, "scale": {"domain": ["Int_OS","near_norm","CIMP"], "paddingInner": 0.4, "paddingOuter": 0.2, "align": 0.917}},
     "y": {"field": "y", "type": "quantitative", "scale": {"domain": [-0.243, 1.19], "nice": false, "zero": false}}, "text": {"field": "t"}}}
  ]
 },
 {
  "width": 238, "height": 288,
  "title": {"text": "B", "fontSize": 33, "anchor": "start", "frame": "group", "dx": 18, "offset": -11},
  "layer": [
   {"data": {"name": "box"}, "transform": [{"filter": "datum.p == 'B'"}], "mark": {"type": "rule", "color": "#c2c2c2", "strokeWidth": 1.3},
    "encoding": {"x": {"field": "g", "type": "nominal", "bandPosition": 0.5, "scale": {"domain": ["Int_OS","near_norm","CIMP"], "paddingInner": 0.4, "paddingOuter": 0.376, "align": 0.5}},
     "y": {"field": "lo", "type": "quantitative", "scale": {"domain": [1.47, 11.4], "nice": false, "zero": false}}, "y2": {"field": "hi"}}},
   {"data": {"name": "box"}, "transform": [{"filter": "datum.p == 'B'"}], "mark": {"type": "rect", "color": "#ebebeb"},
    "encoding": {"x": {"field": "g", "type": "nominal", "scale": {"domain": ["Int_OS","near_norm","CIMP"], "paddingInner": 0.4, "paddingOuter": 0.376, "align": 0.5}},
     "y": {"field": "q1", "type": "quantitative", "scale": {"domain": [1.47, 11.4], "nice": false, "zero": false}}, "y2": {"field": "q3"}}},
   {"data": {"name": "box"}, "transform": [{"filter": "datum.p == 'B'"}, {"fold": ["lo", "hi", "med"], "as": ["k", "w"]}], "mark": {"type": "tick", "thickness": 1.3, "size": 43},
    "encoding": {"x": {"field": "g", "type": "nominal", "scale": {"domain": ["Int_OS","near_norm","CIMP"], "paddingInner": 0.4, "paddingOuter": 0.376, "align": 0.5}},
     "y": {"field": "w", "type": "quantitative", "scale": {"domain": [1.47, 11.4], "nice": false, "zero": false}},
     "color": {"field": "k", "type": "nominal", "scale": {"domain": ["lo", "hi", "med"], "range": ["#bdbdbd", "#bdbdbd", "#9e9e9e"]}, "legend": null}}},
   {"data": {"name": "pts"}, "transform": [{"filter": "datum.p == 'B'"}], "mark": {"type": "circle", "size": 45, "color": "#00aaf0", "opacity": 1},
    "encoding": {"x": {"field": "g", "type": "nominal", "scale": {"domain": ["Int_OS","near_norm","CIMP"], "paddingInner": 0.4, "paddingOuter": 0.376, "align": 0.5},
       "axis": {"title": null, "labelAngle": 0, "labelAlign": "center", "labelBaseline": "top", "labelOverlap": false, "labelFontSize": 15, "labelColor": "black", "labelPadding": 10, "tickSize": 4, "grid": true, "bandPosition": 0.5}},
     "xOffset": {"field": "j", "type": "quantitative", "scale": {"domain": [-1, 1]}},
     "y": {"field": "v", "type": "quantitative", "scale": {"domain": [1.47, 11.4], "nice": false, "zero": false},
       "axis": {"title": "Mutation Count (log2)", "titleFontSize": 15, "titleColor": "black", "titlePadding": 22, "values": [2,3,4,5,6,7,8,9,10,11], "tickCount": 10, "format": "d", "labelOverlap": false, "labelFontSize": 9, "labelColor": "#444444", "labelPadding": 1, "tickSize": 4, "grid": true}}}},
   {"data": {"name": "sig"}, "transform": [{"filter": "datum.p == 'B'"}], "mark": {"type": "rule", "color": "black", "strokeWidth": 1.5},
    "encoding": {"x": {"field": "a", "type": "nominal", "bandPosition": 0.5, "scale": {"domain": ["Int_OS","near_norm","CIMP"], "paddingInner": 0.4, "paddingOuter": 0.376, "align": 0.5}},
     "x2": {"field": "b", "bandPosition": 0.5},
     "y": {"field": "y", "type": "quantitative", "scale": {"domain": [1.47, 11.4], "nice": false, "zero": false}}}},
   {"data": {"name": "sig"}, "transform": [{"filter": "datum.p == 'B' && datum.s == 'short'"}], "mark": {"type": "text", "fontSize": 11, "color": "#333333", "baseline": "alphabetic", "dy": 4},
    "encoding": {"x": {"field": "m", "type": "nominal", "bandPosition": 1.333, "scale": {"domain": ["Int_OS","near_norm","CIMP"], "paddingInner": 0.4, "paddingOuter": 0.376, "align": 0.5}},
     "y": {"field": "y", "type": "quantitative", "scale": {"domain": [1.47, 11.4], "nice": false, "zero": false}}, "text": {"field": "t"}}},
   {"data": {"name": "sig"}, "transform": [{"filter": "datum.p == 'B' && datum.s == 'long'"}], "mark": {"type": "text", "fontSize": 11, "color": "#333333", "baseline": "alphabetic", "dy": 4},
    "encoding": {"x": {"field": "m", "type": "nominal", "bandPosition": 0.5, "scale": {"domain": ["Int_OS","near_norm","CIMP"], "paddingInner": 0.4, "paddingOuter": 0.376, "align": 0.5}},
     "y": {"field": "y", "type": "quantitative", "scale": {"domain": [1.47, 11.4], "nice": false, "zero": false}}, "text": {"field": "t"}}}
  ]
 },
 {
  "width": 21, "height": 289,
  "data": {"values": []},
  "mark": {"type": "point", "opacity": 0},
  "encoding": {}
 },
 {
  "width": 222, "height": 289,
  "title": {"text": "K-means + EM", "subtitle": "\u200b\u200aC", "fontSize": 30, "subtitleFontSize": 33, "subtitlePadding": 8, "anchor": "start", "frame": "group", "dx": 11, "offset": -17},
  "layer": [
   {"data": {"name": "box"}, "transform": [{"filter": "datum.p == 'C'"}], "mark": {"type": "rule", "color": "#c2c2c2", "strokeWidth": 1.3},
    "encoding": {"x": {"field": "g", "type": "nominal", "bandPosition": 0.5, "scale": {"domain": ["Int_OS","near_norm","CIMP"], "paddingInner": 0.4, "paddingOuter": 0.2524, "align": 0.708}},
     "y": {"field": "lo", "type": "quantitative", "scale": {"domain": [-0.243, 1.19], "nice": false, "zero": false}}, "y2": {"field": "hi"}}},
   {"data": {"name": "box"}, "transform": [{"filter": "datum.p == 'C'"}], "mark": {"type": "rect", "color": "#ebebeb"},
    "encoding": {"x": {"field": "g", "type": "nominal", "scale": {"domain": ["Int_OS","near_norm","CIMP"], "paddingInner": 0.4, "paddingOuter": 0.2524, "align": 0.708}},
     "y": {"field": "q1", "type": "quantitative", "scale": {"domain": [-0.243, 1.19], "nice": false, "zero": false}}, "y2": {"field": "q3"}}},
   {"data": {"name": "box"}, "transform": [{"filter": "datum.p == 'C'"}, {"fold": ["lo", "hi", "med"], "as": ["k", "w"]}], "mark": {"type": "tick", "thickness": 1.3, "size": 43},
    "encoding": {"x": {"field": "g", "type": "nominal", "scale": {"domain": ["Int_OS","near_norm","CIMP"], "paddingInner": 0.4, "paddingOuter": 0.2524, "align": 0.708}},
     "y": {"field": "w", "type": "quantitative", "scale": {"domain": [-0.243, 1.19], "nice": false, "zero": false}},
     "color": {"field": "k", "type": "nominal", "scale": {"domain": ["lo", "hi", "med"], "range": ["#bdbdbd", "#bdbdbd", "#9e9e9e"]}, "legend": null}}},
   {"data": {"name": "pts"}, "transform": [{"filter": "datum.p == 'C'"}], "mark": {"type": "circle", "size": 45, "color": "#00aaf0", "opacity": 1},
    "encoding": {"x": {"field": "g", "type": "nominal", "scale": {"domain": ["Int_OS","near_norm","CIMP"], "paddingInner": 0.4, "paddingOuter": 0.2524, "align": 0.708},
       "axis": {"title": null, "labelAngle": 0, "labelAlign": "center", "labelBaseline": "top", "labelOverlap": false, "labelFontSize": 15, "labelColor": "black", "labelPadding": 10, "tickSize": 4, "grid": true, "bandPosition": 0.5}},
     "xOffset": {"field": "j", "type": "quantitative", "scale": {"domain": [-1, 1]}},
     "y": {"field": "v", "type": "quantitative", "scale": {"domain": [-0.243, 1.19], "nice": false, "zero": false},
       "axis": {"title": "Fraction Genome Altered", "titleFontSize": 15, "titleColor": "black", "titlePadding": 16, "values": [-0.2, 0, 0.2, 0.4, 0.6, 0.8, 1], "tickCount": 8, "format": "~g", "labelExpr": "replace(datum.label, '\u2212', '-')", "labelOverlap": false, "labelFontSize": 9, "labelColor": "#444444", "labelPadding": 4, "tickSize": 4, "grid": true}}}},
   {"data": {"name": "sig"}, "transform": [{"filter": "datum.p == 'C'"}], "mark": {"type": "rule", "color": "black", "strokeWidth": 1.5},
    "encoding": {"x": {"field": "a", "type": "nominal", "bandPosition": 0.5, "scale": {"domain": ["Int_OS","near_norm","CIMP"], "paddingInner": 0.4, "paddingOuter": 0.2524, "align": 0.708}},
     "x2": {"field": "b", "bandPosition": 0.5},
     "y": {"field": "y", "type": "quantitative", "scale": {"domain": [-0.243, 1.19], "nice": false, "zero": false}}}},
   {"data": {"name": "sig"}, "transform": [{"filter": "datum.p == 'C' && datum.s == 'short'"}], "mark": {"type": "text", "fontSize": 11, "color": "#333333", "baseline": "alphabetic", "dy": 4},
    "encoding": {"x": {"field": "m", "type": "nominal", "bandPosition": 1.333, "scale": {"domain": ["Int_OS","near_norm","CIMP"], "paddingInner": 0.4, "paddingOuter": 0.2524, "align": 0.708}},
     "y": {"field": "y", "type": "quantitative", "scale": {"domain": [-0.243, 1.19], "nice": false, "zero": false}}, "text": {"field": "t"}}},
   {"data": {"name": "sig"}, "transform": [{"filter": "datum.p == 'C' && datum.s == 'long'"}], "mark": {"type": "text", "fontSize": 11, "color": "#333333", "baseline": "alphabetic", "dy": 4},
    "encoding": {"x": {"field": "m", "type": "nominal", "bandPosition": 0.5, "scale": {"domain": ["Int_OS","near_norm","CIMP"], "paddingInner": 0.4, "paddingOuter": 0.2524, "align": 0.708}},
     "y": {"field": "y", "type": "quantitative", "scale": {"domain": [-0.243, 1.19], "nice": false, "zero": false}}, "text": {"field": "t"}}}
  ]
 },
 {
  "width": 240, "height": 292,
  "title": {"text": "D", "fontSize": 33, "anchor": "start", "frame": "group", "dx": 12, "offset": -17},
  "layer": [
   {"data": {"name": "box"}, "transform": [{"filter": "datum.p == 'D'"}], "mark": {"type": "rule", "color": "#c2c2c2", "strokeWidth": 1.3},
    "encoding": {"x": {"field": "g", "type": "nominal", "bandPosition": 0.5, "scale": {"domain": ["Int_OS","near_norm","CIMP"], "paddingInner": 0.4, "paddingOuter": 0.355, "align": 0.5}},
     "y": {"field": "lo", "type": "quantitative", "scale": {"domain": [1.45, 11.38], "nice": false, "zero": false}}, "y2": {"field": "hi"}}},
   {"data": {"name": "box"}, "transform": [{"filter": "datum.p == 'D'"}], "mark": {"type": "rect", "color": "#ebebeb"},
    "encoding": {"x": {"field": "g", "type": "nominal", "scale": {"domain": ["Int_OS","near_norm","CIMP"], "paddingInner": 0.4, "paddingOuter": 0.355, "align": 0.5}},
     "y": {"field": "q1", "type": "quantitative", "scale": {"domain": [1.45, 11.38], "nice": false, "zero": false}}, "y2": {"field": "q3"}}},
   {"data": {"name": "box"}, "transform": [{"filter": "datum.p == 'D'"}, {"fold": ["lo", "hi", "med"], "as": ["k", "w"]}], "mark": {"type": "tick", "thickness": 1.3, "size": 43},
    "encoding": {"x": {"field": "g", "type": "nominal", "scale": {"domain": ["Int_OS","near_norm","CIMP"], "paddingInner": 0.4, "paddingOuter": 0.355, "align": 0.5}},
     "y": {"field": "w", "type": "quantitative", "scale": {"domain": [1.45, 11.38], "nice": false, "zero": false}},
     "color": {"field": "k", "type": "nominal", "scale": {"domain": ["lo", "hi", "med"], "range": ["#bdbdbd", "#bdbdbd", "#9e9e9e"]}, "legend": null}}},
   {"data": {"name": "pts"}, "transform": [{"filter": "datum.p == 'D'"}], "mark": {"type": "circle", "size": 45, "color": "#00aaf0", "opacity": 1},
    "encoding": {"x": {"field": "g", "type": "nominal", "scale": {"domain": ["Int_OS","near_norm","CIMP"], "paddingInner": 0.4, "paddingOuter": 0.355, "align": 0.5},
       "axis": {"title": ["* Q < 0.05", "** Q < 0.01"], "titleFontSize": 15, "titleColor": "black", "titleAlign": "left", "titleBaseline": "top", "titleX": 168, "titleY": 38, "titleLineHeight": 16, "labelAngle": 0, "labelAlign": "center", "labelBaseline": "top", "labelOverlap": false, "labelFontSize": 15, "labelColor": "black", "labelPadding": 10, "tickSize": 4, "grid": true, "bandPosition": 0.5}},
     "xOffset": {"field": "j", "type": "quantitative", "scale": {"domain": [-1, 1]}},
     "y": {"field": "v", "type": "quantitative", "scale": {"domain": [1.45, 11.38], "nice": false, "zero": false},
       "axis": {"title": "Mutation Count (log2)", "titleFontSize": 15, "titleColor": "black", "titlePadding": 22, "values": [2,3,4,5,6,7,8,9,10,11], "tickCount": 10, "format": "d", "labelOverlap": false, "labelFontSize": 9, "labelColor": "#444444", "labelPadding": 1, "tickSize": 4, "grid": true}}}},
   {"data": {"name": "sig"}, "transform": [{"filter": "datum.p == 'D'"}], "mark": {"type": "rule", "color": "black", "strokeWidth": 1.5},
    "encoding": {"x": {"field": "a", "type": "nominal", "bandPosition": 0.5, "scale": {"domain": ["Int_OS","near_norm","CIMP"], "paddingInner": 0.4, "paddingOuter": 0.355, "align": 0.5}},
     "x2": {"field": "b", "bandPosition": 0.5},
     "y": {"field": "y", "type": "quantitative", "scale": {"domain": [1.45, 11.38], "nice": false, "zero": false}}}},
   {"data": {"name": "sig"}, "transform": [{"filter": "datum.p == 'D' && datum.s == 'short'"}], "mark": {"type": "text", "fontSize": 11, "color": "#333333", "baseline": "alphabetic", "dy": 4},
    "encoding": {"x": {"field": "m", "type": "nominal", "bandPosition": 1.333, "scale": {"domain": ["Int_OS","near_norm","CIMP"], "paddingInner": 0.4, "paddingOuter": 0.355, "align": 0.5}},
     "y": {"field": "y", "type": "quantitative", "scale": {"domain": [1.45, 11.38], "nice": false, "zero": false}}, "text": {"field": "t"}}},
   {"data": {"name": "sig"}, "transform": [{"filter": "datum.p == 'D' && datum.s == 'long'"}], "mark": {"type": "text", "fontSize": 11, "color": "#333333", "baseline": "alphabetic", "dy": 4},
    "encoding": {"x": {"field": "m", "type": "nominal", "bandPosition": 0.5, "scale": {"domain": ["Int_OS","near_norm","CIMP"], "paddingInner": 0.4, "paddingOuter": 0.355, "align": 0.5}},
     "y": {"field": "y", "type": "quantitative", "scale": {"domain": [1.45, 11.38], "nice": false, "zero": false}}, "text": {"field": "t"}}}
  ]
 }
]
}
